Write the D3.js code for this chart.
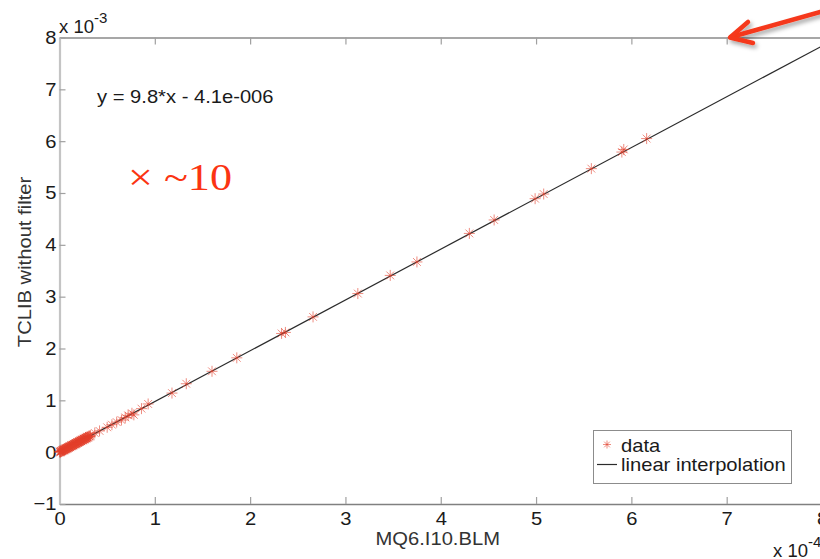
<!DOCTYPE html>
<html>
<head>
<meta charset="utf-8">
<script src="https://cdn.jsdelivr.net/npm/d3@7"></script>
<style>
  html, body { margin: 0; padding: 0; background: #fff; }
  svg { display: block; }
  text { font-family: "Liberation Sans", Arial, Helvetica, sans-serif; }
</style>
</head>
<body>
<svg id="chart" width="820" height="559"></svg>
<script>
// Tick values (x in units of 1e-4, y in units of 1e-3)
const xTicks = [0, 1, 2, 3, 4, 5, 6, 7, 8];
const yTicks = [-1, 0, 1, 2, 3, 4, 5, 6, 7, 8];

// Measured samples: MQ6.I10.BLM (x, 1e-4) vs TCLIB without filter (y, 1e-3)
const dataX = [
  0.002, 0.006, 0.009, 0.012, 0.016, 0.019, 0.023, 0.027, 0.030, 0.033,
  0.037, 0.041, 0.045, 0.048, 0.052, 0.056, 0.060, 0.063, 0.067, 0.071,
  0.075, 0.079, 0.082, 0.086, 0.090, 0.094, 0.098, 0.101, 0.105, 0.109,
  0.113, 0.118, 0.122, 0.126, 0.129, 0.133, 0.137, 0.141, 0.145, 0.149,
  0.153, 0.158, 0.162, 0.166, 0.170, 0.174, 0.177, 0.181, 0.186, 0.190,
  0.194, 0.198, 0.203, 0.207, 0.211, 0.215, 0.220, 0.224, 0.228, 0.232,
  0.236, 0.241, 0.246, 0.250, 0.255, 0.259, 0.264, 0.268, 0.273, 0.277,
  0.282, 0.286, 0.291, 0.295, 0.300, 0.304, 0.309, 0.314, 0.320, 0.325,
  0.37, 0.42, 0.50, 0.55, 0.60, 0.65, 0.69, 0.72, 0.76, 0.78,
  0.86, 0.93, 1.18, 1.33, 1.60, 1.86, 2.33, 2.37, 2.66, 3.13,
  3.47, 3.75, 4.30, 4.56, 4.99, 5.08, 5.58, 5.90, 5.92, 6.16
];
const dataY = [
  0.010, -0.008, 0.012, 0.006, 0.024, 0.022, 0.012, 0.020, 0.040, 0.035,
  0.028, 0.040, 0.055, 0.050, 0.040, 0.052, 0.068, 0.065, 0.055, 0.070,
  0.082, 0.074, 0.070, 0.085, 0.098, 0.090, 0.085, 0.100, 0.112, 0.105,
  0.100, 0.113, 0.128, 0.125, 0.115, 0.130, 0.142, 0.136, 0.130, 0.147,
  0.160, 0.152, 0.148, 0.163, 0.178, 0.170, 0.160, 0.176, 0.192, 0.188,
  0.180, 0.192, 0.210, 0.200, 0.195, 0.212, 0.226, 0.218, 0.210, 0.228,
  0.240, 0.235, 0.228, 0.244, 0.260, 0.255, 0.248, 0.262, 0.278, 0.270,
  0.265, 0.282, 0.296, 0.289, 0.280, 0.296, 0.312, 0.310, 0.300, 0.318,
  0.37, 0.41, 0.48, 0.53, 0.58, 0.62, 0.67, 0.71, 0.75, 0.72,
  0.84, 0.93, 1.14, 1.32, 1.56, 1.82, 2.29, 2.31, 2.61, 3.06,
  3.41, 3.67, 4.22, 4.48, 4.89, 4.98, 5.47, 5.79, 5.84, 6.05
];

// Linear fit stated on the plot: y = 9.8*x - 4.1e-006 (raw units)
const fitSlope = 9.8;
const fitIntercept = -4.1e-6;
const fitRangeX = [0, 8];
const xUnit = 1e-4, yUnit = 1e-3;

const fitLabel = "y = 9.8*x - 4.1e-006";
const xTitle = "MQ6.I10.BLM";
const yTitle = "TCLIB without filter";
const legendLabels = ["data", "linear interpolation"];
const noteText = "× ~10";

const svg = d3.select("#chart");

// Plot frame
const plotLeft = 59.5, plotRight = 822, plotTop = 37.5, plotBottom = 504;
const x = d3.scaleLinear().domain([0, 8]).range([plotLeft, plotRight]);
const y = d3.scaleLinear().domain([-1, 8]).range([plotBottom, plotTop]);

// Widen Helvetica-style text slightly, as the plotting tool renders it
function widen(sel, f) {
  sel.each(function () {
    const w = this.getComputedTextLength();
    d3.select(this).attr("textLength", w * f).attr("lengthAdjust", "spacingAndGlyphs");
  });
}
const FS = 18.5, WF = 1.09, INK = "#1a1a1a";

// Axes (ticks point inward)
const gx = svg.append("g").attr("transform", `translate(0,${plotBottom})`)
  .call(d3.axisBottom(x).tickValues(xTicks).tickSize(-7).tickSizeOuter(0).tickPadding(8)
        .tickFormat(d3.format("d")));
const gxTop = svg.append("g").attr("transform", `translate(0,${plotTop})`)
  .call(d3.axisTop(x).tickValues(xTicks).tickSize(-7).tickSizeOuter(0).tickFormat(""));
const gy = svg.append("g").attr("transform", `translate(${plotLeft},0)`)
  .call(d3.axisLeft(y).tickValues(yTicks).tickSize(-6).tickSizeOuter(0).tickPadding(3)
        .tickFormat(d3.format("d")));

[gx, gxTop, gy].forEach(g => {
  g.selectAll(".tick line").attr("stroke", "#a0a0a0").attr("stroke-width", 1.2);
  g.selectAll("text").attr("font-size", FS).attr("font-family", "Liberation Sans, Arial, sans-serif")
    .style("fill", INK);
});
gx.select(".domain").attr("stroke", "#808080").attr("stroke-width", 1.4);
gxTop.select(".domain").attr("stroke", "#8a8a8a").attr("stroke-width", 1.3);
gy.select(".domain").attr("stroke", "#c4c4c4").attr("stroke-width", 2.2);
gx.selectAll("text").attr("dy", "0.71em");
widen(gx.selectAll("text"), WF);
widen(gy.selectAll("text"), WF);

// Fitted line from the stated coefficients
const fitPts = fitRangeX.map(v => [v, (fitSlope * v * xUnit + fitIntercept) / yUnit]);
svg.append("path")
  .attr("d", d3.line().x(d => x(d[0])).y(d => y(d[1]))(fitPts))
  .attr("fill", "none").attr("stroke", "#2b2b2b").attr("stroke-width", 1.2);

// Asterisk markers
function star(r) {
  const a = r * Math.SQRT1_2;
  return `M${-r},0H${r}M0,${-r}V${r}M${-a},${-a}L${a},${a}M${-a},${a}L${a},${-a}`;
}
const pts = dataX.map((v, i) => [v, dataY[i]]);
svg.append("g").selectAll("path").data(pts).join("path")
  .attr("transform", d => `translate(${x(d[0])},${y(d[1])})`)
  .attr("d", star(5.5))
  .attr("fill", "none").attr("stroke", "#e2402c").attr("stroke-width", 1)
  .attr("stroke-opacity", 0.6);

// Fit equation
svg.append("text").attr("x", 97).attr("y", 103).attr("font-size", FS).style("fill", INK)
  .text(fitLabel).call(widen, WF);

// Exponent labels
const ey = svg.append("text").attr("x", 59).attr("y", 33).attr("font-size", FS).style("fill", INK);
ey.append("tspan").text("x 10");
ey.append("tspan").attr("dy", -10).attr("font-size", 15).text("-3");
const ex = svg.append("text").attr("x", 773).attr("y", 557).attr("font-size", FS).style("fill", INK);
ex.append("tspan").text("x 10");
ex.append("tspan").attr("dy", -10).attr("font-size", 15).text("-4");

// Axis titles
svg.append("text").attr("x", (plotLeft + plotRight) / 2 - 3).attr("y", 545)
  .attr("text-anchor", "middle").attr("font-size", FS).style("fill", "#333").text(xTitle)
  .call(widen, WF);
svg.append("text").attr("transform", "translate(31,262) rotate(-90)")
  .attr("text-anchor", "middle").attr("font-size", FS).style("fill", "#333").text(yTitle)
  .call(widen, WF);

// Legend
const lg = svg.append("g");
lg.append("rect").attr("x", 593.5).attr("y", 430.5).attr("width", 198).attr("height", 53)
  .attr("fill", "#fff").attr("stroke", "#8c8c8c").attr("stroke-width", 1);
lg.append("path").attr("transform", "translate(607,444.5)").attr("d", star(4))
  .attr("fill", "none").attr("stroke", "#e2402c").attr("stroke-width", 1).attr("stroke-opacity", 0.6);
lg.append("text").attr("x", 621).attr("y", 452).attr("font-size", FS).style("fill", INK)
  .text(legendLabels[0]).call(widen, WF);
lg.append("line").attr("x1", 597).attr("x2", 617).attr("y1", 464.5).attr("y2", 464.5)
  .attr("stroke", "#2b2b2b").attr("stroke-width", 1.2);
lg.append("text").attr("x", 621).attr("y", 471).attr("font-size", FS).style("fill", INK)
  .text(legendLabels[1]).call(widen, WF);

// Red annotation
svg.append("text").attr("x", 128).attr("y", 190)
  .style("font-family", "'Liberation Serif', 'DejaVu Serif', serif").attr("font-size", 38)
  .style("fill", "#fb3412")
  .attr("textLength", 104).attr("lengthAdjust", "spacingAndGlyphs").text(noteText);

// Arrow pointing at the top of the y range
const defs = svg.append("defs");
const f = defs.append("filter").attr("id", "shadow").attr("x", "-20%").attr("y", "-50%")
  .attr("width", "140%").attr("height", "200%");
f.append("feDropShadow").attr("dx", 2).attr("dy", 3).attr("stdDeviation", 2)
  .attr("flood-color", "#000").attr("flood-opacity", 0.35);
const arrow = svg.append("g").attr("filter", "url(#shadow)")
  .attr("stroke", "#f5381a").attr("stroke-width", 4.5).attr("fill", "none")
  .attr("stroke-linecap", "round").attr("stroke-linejoin", "round");
arrow.append("line").attr("x1", 845).attr("y1", 5).attr("x2", 731).attr("y2", 37);
arrow.append("polyline").attr("points", "748,22 730,37.5 753,43");
</script>
</body>
</html>
